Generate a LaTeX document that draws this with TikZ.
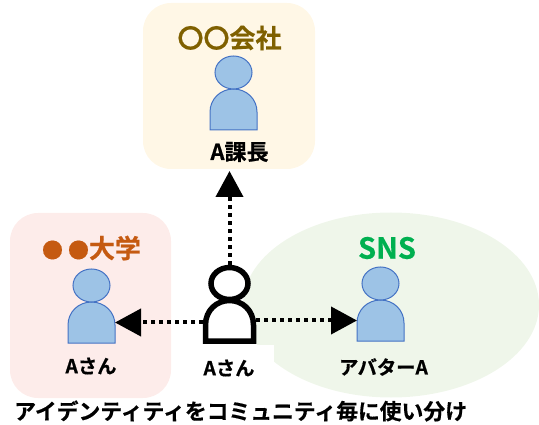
\documentclass[tikz,border=0pt]{standalone}
\usepackage{fontspec}
\setmainfont{Noto Sans CJK JP}[BoldFont={Noto Sans CJK JP Bold},BoldFeatures={FakeBold=0.5}]
\usetikzlibrary{arrows.meta}
\definecolor{bluefill}{HTML}{9DC3E6}
\definecolor{blueline}{HTML}{4472C4}
\definecolor{yellowbg}{HTML}{FFF7E6}
\definecolor{redbg}{HTML}{FDECEA}
\definecolor{greenbg}{HTML}{EFF6EA}
\definecolor{goldtx}{HTML}{7F6000}
\definecolor{orangetx}{HTML}{C55A11}
\definecolor{greentx}{HTML}{00B050}
\tikzset{
  x=1pt,y=-1pt,
  lab/.style={inner sep=0pt,font=\fontsize{19.3}{19}\selectfont\bfseries,text=black},
  head/.style={inner sep=0pt,font=\fontsize{26}{26}\selectfont\bfseries},
  bodyanchor/.style={minimum width=47pt,minimum height=41pt,inner sep=0pt,outer sep=0pt},
  link/.style={line width=4pt,dash pattern=on 4pt off 4pt,-{Triangle[length=26pt,width=27pt,sep=0pt]}},
  bluep/.style={fill=bluefill,draw=blueline,line width=1pt}
}
\newcommand{\personshape}[3]{% center x, top of body, bottom of body
  \path[#1] (#2-23.5,#3+41) -- (#2-23.5,#3+23) .. controls (#2-23.5,#3+10) and (#2-13,#3) .. (#2,#3)
   .. controls (#2+13,#3) and (#2+23.5,#3+10) .. (#2+23.5,#3+23) -- (#2+23.5,#3+41) -- cycle;
  \path[#1] (#2,#3-16.5) ellipse [x radius=18.5,y radius=16.5];
}
\begin{document}
\begin{tikzpicture}
\useasboundingbox (0,0) rectangle (539,425);
% backgrounds
\fill[yellowbg,rounded corners=28pt] (143,3) rectangle (315,169);
\fill[redbg,rounded corners=28pt] (10,213) rectangle (171,398);
\fill[greenbg] (391,305) ellipse [x radius=148,y radius=92.5];
\fill[white] (200,345) rectangle (274,398);
% persons
\personshape{bluep}{233.5}{89}
\personshape{bluep}{91.5}{302}
\personshape{bluep}{380.5}{300}
\path[fill=white,draw=black,line width=5.5pt]
  (205.5,341) -- (205.5,325) .. controls (205.5,310) and (217,300.5) .. (229.5,300.5)
   .. controls (242,300.5) and (253.5,310) .. (253.5,325) -- (253.5,341) -- cycle;
\path[fill=white,draw=black,line width=5.5pt] (229.5,283.5) ellipse [x radius=18.5,y radius=16];
% anchors
\node[bodyanchor] (boss) at (233.5,109.5) {};
\node[bodyanchor] (student) at (91.5,322.5) {};
\node[bodyanchor] (avatar) at (380.5,320.5) {};
\node[minimum width=53pt,minimum height=79pt,inner sep=0pt,outer sep=0pt] (me) at (229.5,304.5) {};
\coordinate (bossfoot) at (229.5,171);
% links
\draw[link] (me.north) -- (bossfoot);
\draw[link] (me.west|-student.east) -- (student.east);
\draw[link] (me.east|-avatar.east) -- (avatar.west);
% text
\node[head,text=goldtx] (t1) at (229.5,38) {〇〇会社};
\node[head,text=orangetx] (t2) at (91.5,248) {{\fontsize{21}{21}\selectfont ●\hspace{5pt}●}大学};
\node[head,text=greentx,font=\fontsize{29}{29}\selectfont\bfseries] (t3) at (387,248) {SNS};
\node[lab,font=\fontsize{22}{22}\selectfont\bfseries] (l1) at (239.5,152) {A課長};
\node[lab] (l2) at (91,366) {Aさん};
\node[lab] (l3) at (229,368) {Aさん};
\node[lab] (l4) at (383.5,367) {アバターA};
\node[inner sep=0pt,font=\fontsize{21.8}{22}\selectfont\bfseries,anchor=west] (cap) at (14,411) {アイデンティティをコミュニティ毎に使い分け};
\end{tikzpicture}
\end{document}
